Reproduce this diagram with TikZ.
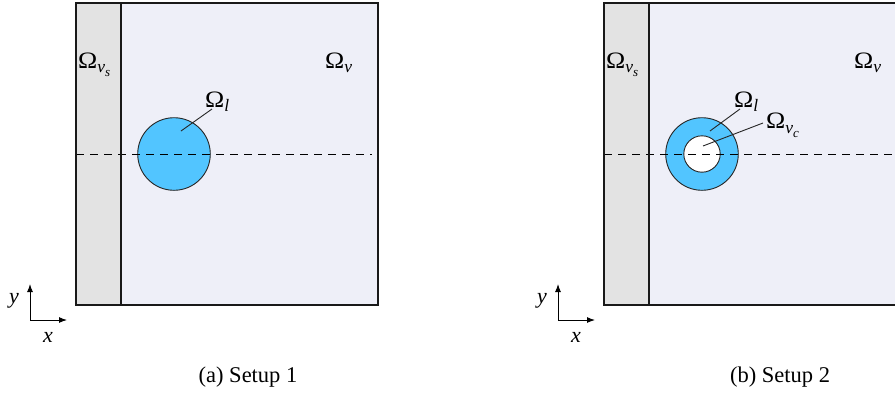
\documentclass[tikz,border=0pt]{standalone}
\usepackage{fontspec}
\setmainfont{Liberation Serif}
\usetikzlibrary{arrows.meta}
\definecolor{stripgray}{HTML}{E3E3E3}
\definecolor{domainbg}{HTML}{EEEFF8}
\definecolor{dropblue}{HTML}{52C5FF}
\newcommand{\subA}[1]{\raisebox{-4.5pt}{\fontsize{17.5}{18}\selectfont\itshape #1}}
\newcommand{\subB}[1]{\raisebox{-4pt}{\fontsize{13}{14}\selectfont\itshape #1}}
\newcommand{\BigOm}{\scalebox{1.1}[1]{Ω}}
\newcommand{\OmA}[1]{\BigOm\subA{#1}}
\newcommand{\OmB}[2]{\BigOm\subA{#1\subB{#2}}}
\tikzset{
  border/.style={line width=2pt, draw=black!90},
  leader/.style={line width=0.9pt, draw=black!85},
  axis/.style={line width=1pt, -{Latex[length=8pt,width=6pt]}},
  lbl/.style={inner sep=0pt, anchor=base west, font=\fontsize{23.5}{27}\selectfont},
  axlbl/.style={inner sep=0pt, anchor=base, font=\fontsize{22}{26}\selectfont\itshape},
  captext/.style={inner sep=0pt, anchor=base, font=\fontsize{22.5}{26}\selectfont},
  dropline/.style={line width=0.9pt, draw=black!85},
  midline/.style={line width=0.9pt, dash pattern=on 8pt off 6pt},
}
\begin{document}
\begin{tikzpicture}[x=1pt,y=-1pt]
\useasboundingbox (0,0) rectangle (895,394);
\clip (0,0) rectangle (895,394);
% ---------- panel (a)
\fill[stripgray] (76,3) rectangle (121,305);
\fill[domainbg] (121,3) rectangle (378,305);
\fill[dropblue] (174,154) circle[radius=36.3];
\draw[dropline] (174,154) circle[radius=36.3];
\draw[midline] (76,154) -- (372,154);
\draw[border] (76,3) rectangle (378,305);
\draw[border] (121,3) -- (121,305);
\node[lbl] (avs) at (78,68) {\OmB{v}{s}};
\node[lbl] (av) at (325,68) {\OmA{v}};
\node[lbl] (al) at (205,107) {\OmA{l}};
\coordinate (alA) at (181,131);
\coordinate (alB) at (212,109);
\draw[leader] (alA) -- (alB);
\coordinate (ao) at (30,320);
\coordinate (ay) at (30,284);
\coordinate (ax) at (67,320);
\draw[axis] (ao) -- (ay);
\draw[axis] (ao) -- (ax);
\node[axlbl] (ayl) at (14,303) {y};
\node[axlbl] (axl) at (48,342) {x};
\node[captext] (acap) at (248,382) {(a) Setup 1};
% ---------- panel (b)
\begin{scope}[xshift=528pt]
\fill[stripgray] (76,3) rectangle (121,305);
\fill[domainbg] (121,3) rectangle (378,305);
\fill[dropblue] (174,154) circle[radius=36.3];
\fill[white] (174,154) circle[radius=18.2];
\draw[dropline] (174,154) circle[radius=36.3];
\draw[dropline] (174,154) circle[radius=18.2];
\draw[midline] (76,154) -- (372,154);
\draw[border] (76,3) rectangle (378,305);
\draw[border] (121,3) -- (121,305);
\node[lbl] (bvs) at (78,68) {\OmB{v}{s}};
\node[lbl] (bv) at (326,68) {\OmA{v}};
\node[lbl] (bl) at (206,107) {\OmA{l}};
\node[lbl] (bvc) at (238,128.5) {\OmB{v}{c}};
\coordinate (blA) at (182,131);
\coordinate (blB) at (212,109);
\draw[leader] (blA) -- (blB);
\coordinate (bcA) at (175,146);
\coordinate (bcB) at (235,123);
\draw[leader] (bcA) -- (bcB);
\coordinate (bo) at (30,320);
\coordinate (by) at (30,284);
\coordinate (bx) at (67,320);
\draw[axis] (bo) -- (by);
\draw[axis] (bo) -- (bx);
\node[axlbl] (byl) at (14,303) {y};
\node[axlbl] (bxl) at (48,342) {x};
\node[captext] (bcap) at (252,382) {(b) Setup 2};
\end{scope}
\end{tikzpicture}
\end{document}
